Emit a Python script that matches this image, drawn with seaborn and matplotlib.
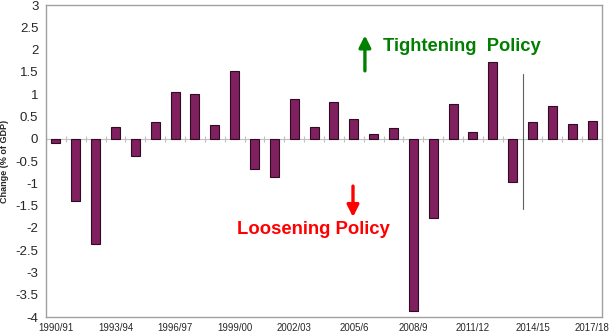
import matplotlib
matplotlib.use("Agg")
import matplotlib.pyplot as plt
import seaborn as sns
import numpy as np
import pandas as pd

years = ["1990/91", "1991/92", "1992/93", "1993/94", "1994/95", "1995/96", "1996/97",
         "1997/98", "1998/99", "1999/00", "2000/01", "2001/02", "2002/03", "2003/04",
         "2004/05", "2005/6", "2006/07", "2007/08", "2008/9", "2009/10", "2010/11",
         "2011/12", "2012/13", "2013/14", "2014/15", "2015/16", "2016/17", "2017/18"]
change = [-0.10, -1.40, -2.37, 0.27, -0.38, 0.38, 1.04, 1.00, 0.30, 1.52, -0.68, -0.85,
          0.90, 0.27, 0.82, 0.44, 0.10, 0.23, -3.86, -1.79, 0.78, 0.14, 1.71, -0.98,
          0.38, 0.74, 0.33, 0.40]
shown_labels = ["1990/91", "1993/94", "1996/97", "1999/00", "2002/03", "2005/6",
                "2008/9", "2011/12", "2014/15", "2017/18"]
yticks = [3, 2.5, 2, 1.5, 1, 0.5, 0, -0.5, -1, -1.5, -2, -2.5, -3, -3.5, -4]

sns.set_style("white")
plt.rcParams['font.family'] = ['Liberation Sans', 'DejaVu Sans']

df = pd.DataFrame({"year": years, "change": change})

fig = plt.figure(figsize=(6.09, 3.34), dpi=100)
ax = fig.add_axes([46/609, 1-317/334, (602-46)/609, (317-5)/334])

sns.barplot(data=df, x="year", y="change", order=years, color="#80205f",
            saturation=1, width=0.45, edgecolor="#2e0c24", linewidth=0.8, ax=ax)

ax.set_xlim(-0.5, len(years)-0.5)
ax.set_ylim(-4, 3)
ax.set_yticks(yticks)
ax.set_yticklabels([("%g" % t) for t in yticks], fontsize=9.5)
ax.tick_params(axis='y', length=3, width=0.6, color="#c8c8c8", direction='inout', pad=4)

pos = [years.index(l) for l in shown_labels]
ax.set_xticks(pos)
ax.set_xticklabels(shown_labels, fontsize=6.9)
ax.tick_params(axis='x', length=0, pad=4)
ax.set_xlabel("")
ax.set_ylabel("Change (% of GDP)", fontsize=6.5, fontweight='bold')
ax.yaxis.set_label_coords(-0.066, 0.5)

for s in ax.spines.values():
    s.set_color("#a0a0a0")
    s.set_linewidth(1.0)

# zero axis with category-boundary tick marks
ax.axhline(0, color="#c0c0c0", lw=0.8, zorder=0.5)
bounds = np.arange(len(years)+1) - 0.5
ax.plot(bounds, np.zeros_like(bounds), linestyle='none', marker='|', ms=5,
        mec="#c0c0c0", mew=0.8, zorder=0.5)

# divider between 2013/14 and 2014/15
ax.plot([23.5, 23.5], [1.45, -1.57], color="#606060", lw=0.8)

# annotations
ax.annotate("", xy=(15.56, 2.38), xytext=(15.56, 1.46),
            arrowprops=dict(arrowstyle="-|>,head_length=0.7,head_width=0.35",
                            color="#008000", lw=2.4))
ax.text(16.47, 2.08, "Tightening  Policy", color="#008000", fontsize=13.2,
        fontweight='bold', va='center', ha='left')
ax.annotate("", xy=(14.96, -1.82), xytext=(14.96, -1.0),
            arrowprops=dict(arrowstyle="-|>,head_length=0.7,head_width=0.35",
                            color="#ff0000", lw=2.4))
ax.text(9.12, -2.03, "Loosening Policy", color="#ff0000", fontsize=13.3,
        fontweight='bold', va='center', ha='left')

fig.savefig("out.png", dpi=100)
